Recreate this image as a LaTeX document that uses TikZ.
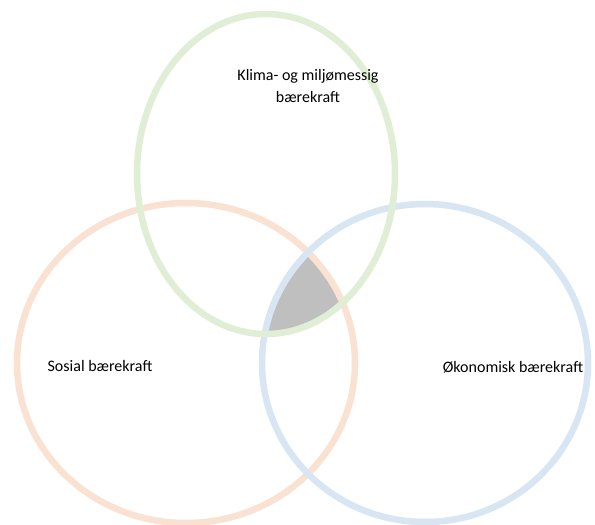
\documentclass[tikz,border=0pt]{standalone}
\usepackage{fontspec}
\setmainfont{Carlito}
\definecolor{cgreen}{RGB}{224,238,214}
\definecolor{corange}{RGB}{250,226,210}
\definecolor{cblue}{RGB}{216,229,243}
\definecolor{cgray}{RGB}{191,191,191}
\begin{document}
\begin{tikzpicture}[x=1pt,y=-1pt,
  ring/.style={line width=6.5pt},
  lbl/.style={font=\fontsize{16}{22}\selectfont, text=black, align=center, inner sep=0pt}]
\useasboundingbox (0,0) rectangle (595,525);
\fill[white] (0,0) rectangle (595,525);
% intersection
\begin{scope}
  \clip (266,174) ellipse [x radius=129, y radius=160];
  \clip (186,363) ellipse [x radius=169, y radius=160];
  \fill[cgray] (425,363) ellipse [x radius=163, y radius=159];
\end{scope}
\draw[ring, corange] (186,363) ellipse [x radius=169, y radius=160];
\draw[ring, cblue] (425,363) ellipse [x radius=163, y radius=159];
\draw[ring, cgreen] (266,174) ellipse [x radius=129, y radius=160];
\node[lbl] (klima) at (308,86) {Klima- og miljømessig\\bærekraft};
\node[lbl] (sosial) at (100,366) {Sosial bærekraft};
\node[lbl] (oko) at (513,367) {Økonomisk bærekraft};
\end{tikzpicture}
\end{document}
